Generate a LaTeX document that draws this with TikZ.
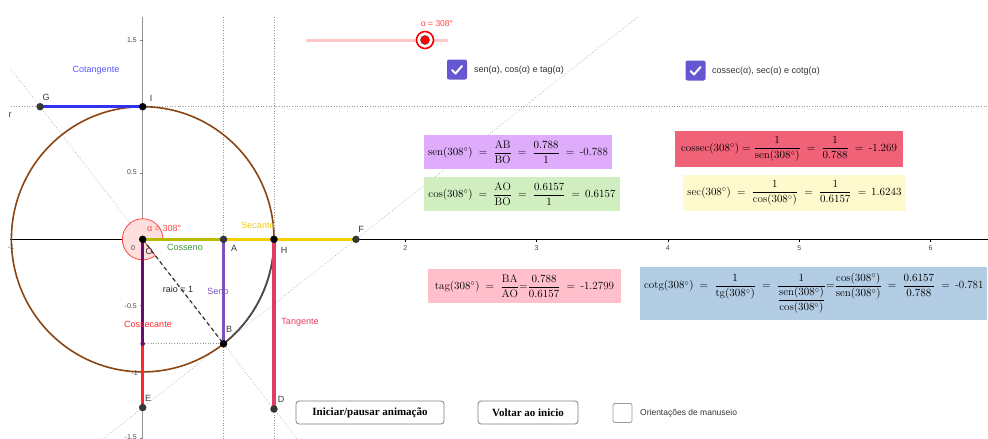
\documentclass[tikz,border=0pt]{standalone}
\usepackage{fontspec}
\usepackage{amsmath}
\usetikzlibrary{calc}
\newfontfamily\geo{Liberation Sans}
\newfontfamily\btnserif{Liberation Serif}
\definecolor{circbrown}{RGB}{139,69,19}
\definecolor{arcgray}{RGB}{75,75,75}
\definecolor{cotblue}{RGB}{50,50,240}
\definecolor{cotlab}{RGB}{85,85,255}
\definecolor{secyellow}{RGB}{245,208,0}
\definecolor{seclab}{RGB}{242,204,20}
\definecolor{cosolive}{RGB}{185,185,0}
\definecolor{coslab}{RGB}{60,150,60}
\definecolor{senpurple}{RGB}{125,80,190}
\definecolor{tanred}{RGB}{225,60,100}
\definecolor{cscred}{RGB}{255,40,40}
\definecolor{projpurple}{RGB}{110,10,110}
\definecolor{angred}{RGB}{255,70,70}
\definecolor{gridgray}{RGB}{150,150,150}
\definecolor{ticktext}{RGB}{70,70,70}
\definecolor{ptgray}{RGB}{55,55,55}
\definecolor{boxsen}{RGB}{222,172,250}
\definecolor{boxcos}{RGB}{208,238,192}
\definecolor{boxcsc}{RGB}{240,98,120}
\definecolor{boxsec}{RGB}{255,250,205}
\definecolor{boxtan}{RGB}{255,192,203}
\definecolor{boxcot}{RGB}{178,205,228}
\definecolor{checkfill}{RGB}{101,87,210}
\tikzset{
  guide/.style={gridgray, dotted, line width=0.6pt},
  seg/.style={line width=3.4pt},
  dot/.style={circle, fill=#1, inner sep=0pt, minimum size=7.5pt},
  ptlab/.style={font=\geo\fontsize{9}{10}\selectfont, text=ptgray, inner sep=0pt},
  ticklab/.style={font=\geo\fontsize{7}{8}\selectfont, text=ticktext, inner sep=0pt},
  seglab/.style={font=\geo\fontsize{9}{10}\selectfont, inner sep=0pt},
  formula/.style={rectangle, inner sep=0pt, font=\fontsize{11}{13}\selectfont},
  btn/.style={draw=gray, line width=0.8pt, rounded corners=3pt, fill=white,
    font=\btnserif\bfseries\fontsize{11}{12}\selectfont, minimum height=23pt},
  checked/.style={rectangle, rounded corners=2pt, fill=checkfill, minimum size=20pt, inner sep=0pt},
  uitext/.style={font=\geo\fontsize{9}{10}\selectfont, text=black!80, anchor=west, inner sep=0pt}
}
\begin{document}
\begin{tikzpicture}[x=1pt,y=-1pt]
\useasboundingbox (0,0) rectangle (988,439);

% ---------------- graphics view ----------------
\begin{scope}
\clip (10,17) rectangle (988,439);
\begin{scope}[shift={(142.7,239.3)}, x=131.3pt, y=132.6pt]
  \coordinate (O) at (0,0);
  \coordinate (A) at (0.6157,0);
  \coordinate (B) at (0.6157,-0.788);
  \coordinate (H) at (1,0);
  \coordinate (D) at (1,-1.2799);
  \coordinate (E) at (0,-1.269);
  \coordinate (F) at (1.6243,0);
  \coordinate (G) at (-0.781,1);
  \coordinate (I) at (0,1);
  \coordinate (P) at (0,-0.788);

  % guide lines
  \draw[guide] (0.6157,-1.7) -- (0.6157,1.8);
  \draw[guide] (1,-1.7) -- (1,1.8);
  \draw[guide] (-1.2,1) -- (6.7,1);
  \draw[guide] ($(O)!-1.7!(B)$) -- ($(O)!2.0!(B)$);
  \draw[guide] ($(E)!-0.6!(F)$) -- ($(E)!2.5!(F)$);
  \draw[guide] (P) -- (B);

  % axes
  \draw[black, line width=0.8pt] (-1.2,0) -- (6.7,0);
  \draw[gray!85, line width=0.9pt] (0,-1.7) -- (0,1.8);
  \foreach \k in {2,...,6} \draw[black, line width=0.5pt] (\k,0) -- ++(0,-0.02);
  \foreach \k in {-1.5,-1,-0.5,0.5,1,1.5} \draw[gray, line width=0.5pt] (0,\k) -- ++(-0.02,0);

  % unit circle
  \draw[circbrown, line width=1.6pt] (0,0) circle [radius=1];
  \draw[arcgray, line width=1.6pt] (1,0) arc [start angle=0, end angle=-52, radius=1];

  % angle alpha
  \filldraw[draw=angred, fill=angred!18, line width=0.8pt]
    (0,0) -- (0.155,0) arc [start angle=0, end angle=308, radius=0.155] -- cycle;

  % trigonometric segments
  \draw[seg, secyellow] (O) -- (F);
  \draw[seg, cosolive] (O) -- (A);
  \draw[seg, tanred] (H) -- (D);
  \draw[seg, senpurple] (A) -- (B);
  \draw[seg, cscred] (O) -- (E);
  \draw[seg, projpurple] (O) -- (P);
  \draw[seg, cotblue] (G) -- (I);
  \draw[black!80, line width=1.2pt, dash pattern=on 4pt off 3pt] (O) -- (B);
\end{scope}
\end{scope}

% points
\node[dot=black] (pO) at (O) {};
\node[dot=ptgray] (pA) at (A) {};
\node[dot=black] (pB) at (B) {};
\node[dot=black] (pH) at (H) {};
\node[dot=ptgray] (pD) at (D) {};
\node[dot=ptgray] (pE) at (E) {};
\node[dot=ptgray] (pF) at (F) {};
\node[dot=ptgray] (pG) at (G) {};
\node[dot=black] (pI) at (I) {};
\node[circle, fill=projpurple, inner sep=0pt, minimum size=4.5pt] (pP) at (P) {};

% point labels
\node[ptlab] (lO) at (149,251) {O};
\node[ptlab] (lA) at (234,248) {A};
\node[ptlab] (lB) at (229,329) {B};
\node[ptlab] (lH) at (284,250) {H};
\node[ptlab] (lD) at (281,399) {D};
\node[ptlab] (lE) at (148,398) {E};
\node[ptlab] (lF) at (361,229) {F};
\node[ptlab] (lG) at (46,97) {G};
\node[ptlab] (lI) at (151,98) {I};
\node[ptlab] (lr) at (10,115) {r};

% segment labels
\node[seglab, text=cotlab] (tcot) at (96,70) {Cotangente};
\node[seglab, text=seclab] (tsec) at (258,225) {Secante};
\node[seglab, text=coslab] (tcos) at (185,247) {Cosseno};
\node[seglab, text=senpurple] (tsen) at (218,291) {Seno};
\node[seglab, text=cscred] (tcsc) at (148,324) {Cossecante};
\node[seglab, text=tanred] (ttan) at (300,322) {Tangente};
\node[seglab, text=black!85] (traio) at (178,289) {raio = 1};
\node[seglab, text=angred, anchor=west] (talpha) at (147,228) {α = 308°};

% tick labels
\node[ticklab] (x0) at (133,248) {0};
\node[ticklab] (xm1) at (11,247) {-1};
\foreach \k/\px in {2/405.3,3/536.6,4/667.9,5/799.2,6/930.5}
  \node[ticklab] (x\k) at (\px,248) {\k};
\node[ticklab, anchor=east] (y15) at (137,40) {1.5};
\node[ticklab, anchor=east] (y05) at (137,172) {0.5};
\node[ticklab, anchor=east] (ym05) at (137,306) {-0.5};
\node[ticklab, anchor=east] (ym1) at (138,373) {-1};
\node[ticklab, anchor=east] (ym15) at (137,437) {-1.5};

% ---------------- slider ----------------
\coordinate (trackL) at (307,40);
\coordinate (trackR) at (447,40);
\draw[red!22, line width=3pt, line cap=round] (trackL) -- (trackR);
\node[circle, draw=red, line width=1.6pt, fill=white, minimum size=17pt, inner sep=0pt] (knob) at (425,40) {};
\node[circle, draw=black!70, line width=0.5pt, fill=red, minimum size=9pt, inner sep=0pt] (knobc) at (knob) {};
\node[font=\geo\fontsize{8.5}{9}\selectfont, text=angred, inner sep=0pt] (slab) at (437,24) {α = 308°};

% ---------------- check boxes ----------------
\node[checked] (cb1) at (457,69.5) {};
\draw[white, line width=2pt, line cap=round, line join=round]
  ([shift={(-5,0.5)}]cb1.center) -- ([shift={(-1.5,4)}]cb1.center) -- ([shift={(5,-3.5)}]cb1.center);
\node[uitext] (cb1t) at (474,70) {sen(α), cos(α) e tag(α)};
\node[checked] (cb2) at (695.5,70.5) {};
\draw[white, line width=2pt, line cap=round, line join=round]
  ([shift={(-5,0.5)}]cb2.center) -- ([shift={(-1.5,4)}]cb2.center) -- ([shift={(5,-3.5)}]cb2.center);
\node[uitext] (cb2t) at (712,71) {cossec(α), sec(α) e cotg(α)};

% ---------------- formula boxes ----------------
\node[formula, fill=boxsen, minimum width=188pt, minimum height=34pt] (fsen) at (518,152)
  {$\mathrm{sen}(308^\circ) \;=\; \dfrac{\mathrm{AB}}{\mathrm{BO}} \;=\; \dfrac{0.788}{1} \;=\,$ -0.788};
\node[formula, fill=boxcos, minimum width=196pt, minimum height=34pt] (fcos) at (522,194)
  {$\cos(308^\circ) \;=\; \dfrac{\mathrm{AO}}{\mathrm{BO}} \;=\; \dfrac{0.6157}{1} \;=\, 0.6157$};
\node[formula, fill=boxcsc, minimum width=228pt, minimum height=36pt] (fcsc) at (789,149)
  {$\mathrm{cossec}(308^\circ) = \dfrac{1}{\mathrm{sen}(308^\circ)} \;=\; \dfrac{1}{0.788} \;=\,$ -1.269};
\node[formula, fill=boxsec, minimum width=223pt, minimum height=36pt] (fsec) at (794.5,193)
  {$\sec(308^\circ) \;=\; \dfrac{1}{\cos(308^\circ)} \;=\; \dfrac{1}{0.6157} \;=\, 1.6243$};
\node[formula, fill=boxtan, minimum width=193pt, minimum height=34pt] (ftan) at (524.5,286)
  {$\mathrm{tag}(308^\circ) \;=\; \dfrac{\mathrm{BA}}{\mathrm{AO}}{=}\dfrac{0.788}{0.6157} \;=\,$ -1.2799};
\node[formula, fill=boxcot, minimum height=53pt, anchor=west, inner xsep=4pt] (fcot) at (640,293.5)
  {$\mathrm{cotg}(308^\circ) \;=\; \dfrac{1}{\mathrm{tg}(308^\circ)} \;=\; \dfrac{1}{\dfrac{\mathrm{sen}(308^\circ)}{\cos(308^\circ)}}{=}\dfrac{\cos(308^\circ)}{\mathrm{sen}(308^\circ)} \;=\; \dfrac{0.6157}{0.788} \;=\,$ -0.781};

% ---------------- buttons ----------------
\node[btn, minimum width=148pt] (play) at (370,412.5) {Iniciar/pausar animação};
\node[btn, minimum width=100pt] (reset) at (528,412.5) {Voltar ao inicio};
\node[rectangle, draw=gray!80, line width=0.8pt, rounded corners=2pt, minimum size=19pt, inner sep=0pt] (cb3) at (622.5,413) {};
\node[uitext, font=\geo\fontsize{8.5}{9}\selectfont] (cb3t) at (640,413) {Orientações de manuseio};
\end{tikzpicture}
\end{document}
